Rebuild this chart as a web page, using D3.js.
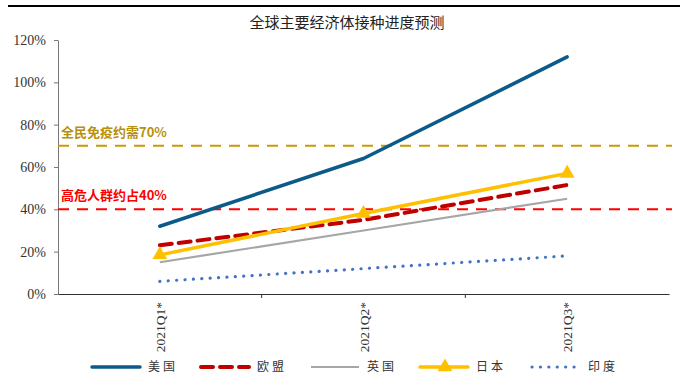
<!DOCTYPE html>
<html>
<head>
<meta charset="utf-8">
<script src="https://cdn.jsdelivr.net/npm/d3@7"></script>
<style>
  html, body { margin: 0; padding: 0; background: #fff; }
  svg { display: block; }
</style>
</head>
<body>
<svg id="chart" width="683" height="374"></svg>
<script>
// Quarters on the x axis
const categories = ["2021Q1*", "2021Q2*", "2021Q3*"];
// Projected vaccination coverage (%) per economy
const usValues = [32, 64, 112];
const euValues = [23, 35, 51.5];
const ukValues = [15, 30, 45];
const jpValues = [18.5, 38, 57];
const inValues = [6, 12, 18];
const seriesNames = ["美国", "欧盟", "英国", "日本", "印度"];
// Reference thresholds
const refValues = [70, 40];
const refLabels = ["全民免疫约需70%", "高危人群约占40%"];
const yTicks = [0, 20, 40, 60, 80, 100, 120];
const title = "全球主要经济体接种进度预测";

const svg = d3.select("#chart");
const plotLeft = 58, plotRight = 669, plotTop = 40, plotBottom = 294;

const x = d3.scaleBand().domain(categories).range([plotLeft, plotRight]);
const y = d3.scaleLinear().domain([0, 120]).range([plotBottom, plotTop]);
const cx = c => x(c) + x.bandwidth() / 2;

// top rule
svg.append("line").attr("x1", 8).attr("x2", 680).attr("y1", 6).attr("y2", 6)
  .attr("stroke", "#000").attr("stroke-width", 2.2);

// title
svg.append("text").attr("x", 347).attr("y", 28).attr("text-anchor", "middle")
  .attr("font-family", "'Noto Sans CJK SC'").attr("font-size", 15).attr("fill", "#222")
  .text(title);

// y axis
const yAxis = d3.axisLeft(y).tickValues(yTicks).tickFormat(d => d + "%").tickSize(4).tickSizeOuter(0);
const gy = svg.append("g").attr("transform", `translate(${plotLeft},0)`).call(yAxis);
gy.select(".domain").attr("stroke", "#777");
gy.selectAll(".tick line").attr("stroke", "#777");
gy.selectAll(".tick text").attr("font-family", "'Liberation Serif'").attr("font-size", 14)
  .attr("fill", "#333").attr("x", -12);

// x axis
const xAxis = d3.axisBottom(x).tickValues([]).tickSizeOuter(0);
const gx = svg.append("g").attr("transform", `translate(0,${plotBottom})`).call(xAxis);
gx.select(".domain").attr("stroke", "#333").attr("stroke-width", 1.2);
// ticks between categories
categories.slice(1).forEach(c => {
  gx.append("line").attr("x1", x(c)).attr("x2", x(c)).attr("y1", 0).attr("y2", 4).attr("stroke", "#333");
});
categories.forEach(c => {
  svg.append("text")
    .attr("transform", `translate(${cx(c) + 5},${plotBottom + 8}) rotate(-90)`)
    .attr("text-anchor", "end")
    .attr("font-family", "'Liberation Serif'").attr("font-size", 13.5).attr("fill", "#333")
    .text(c);
});

// reference lines
const refColors = ["#C99A06", "#FF0000"];
refValues.forEach((v, i) => {
  svg.append("line").attr("x1", plotLeft).attr("x2", 672).attr("y1", y(v)).attr("y2", y(v))
    .attr("stroke", refColors[i]).attr("stroke-width", 2).attr("stroke-dasharray", "11,8");
  svg.append("text").attr("x", 61).attr("y", y(v) - 9)
    .attr("font-family", "'Noto Sans CJK SC'").attr("font-weight", "bold").attr("font-size", 13)
    .attr("fill", i === 0 ? "#B8900A" : "#FF0000")
    .text(refLabels[i]);
});

const line = d3.line().x((d, i) => cx(categories[i])).y(d => y(d));

const series = [
  { name: seriesNames[0], values: usValues, color: "#0B5A8A", width: 3.5, dash: null, cap: "round" },
  { name: seriesNames[1], values: euValues, color: "#C00000", width: 4, dash: "12,7", cap: "round" },
  { name: seriesNames[2], values: ukValues, color: "#A6A6A6", width: 2.2, dash: null, cap: "butt" },
  { name: seriesNames[3], values: jpValues, color: "#FFC000", width: 3.5, dash: null, cap: "round", marker: true },
  { name: seriesNames[4], values: inValues, color: "#4472C4", width: 3.2, dash: "0.1,8.3", cap: "round" }
];

// draw order keeps the marked series on top
const order = [4, 2, 1, 3, 0];
const tri = d3.symbol().type(d3.symbolTriangle).size(95);
order.forEach(k => {
  const s = series[k];
  svg.append("path").datum(s.values).attr("d", line)
    .attr("fill", "none").attr("stroke", s.color).attr("stroke-width", s.width)
    .attr("stroke-linecap", s.cap).attr("stroke-linejoin", "round")
    .attr("stroke-dasharray", s.dash);
  if (s.marker) {
    svg.selectAll(null).data(s.values).enter().append("path")
      .attr("d", tri)
      .attr("transform", (d, i) => `translate(${cx(categories[i])},${y(d)})`)
      .attr("fill", s.color);
  }
});

// legend
const legendX = [92, 201, 311, 420, 532];
const legendY = 367;
series.forEach((s, i) => {
  const g = svg.append("g");
  g.append("line").attr("x1", legendX[i]).attr("x2", legendX[i] + 48)
    .attr("y1", legendY).attr("y2", legendY)
    .attr("stroke", s.color).attr("stroke-width", s.width)
    .attr("stroke-linecap", s.cap).attr("stroke-dasharray", s.dash);
  if (s.marker) {
    g.append("path").attr("d", tri).attr("transform", `translate(${legendX[i] + 25},${legendY})`)
      .attr("fill", s.color);
  }
  g.append("text").attr("x", legendX[i] + 56).attr("y", legendY + 4)
    .attr("font-family", "'Noto Sans CJK SC'").attr("font-size", 12).attr("fill", "#333")
    .attr("letter-spacing", 3)
    .text(s.name);
});
</script>
</body>
</html>
